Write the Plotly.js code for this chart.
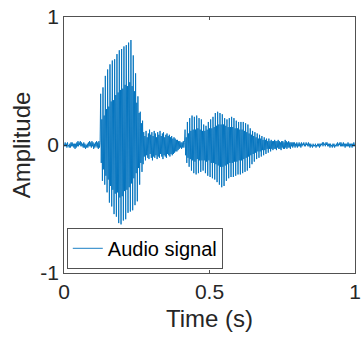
<!DOCTYPE html>
<html>
<head>
<meta charset="utf-8">
<script src="https://cdn.plot.ly/plotly-3.0.1.min.js"></script>
<style>html,body{margin:0;padding:0;background:#fff;}#chart{width:362px;height:337px;}</style>
</head>
<body>
<div id="chart"></div>
<script>
// Sample interval (s)
var sampleStep = 0.002;
// Leading background noise (0 - 0.124 s)
var leadNoise = [.01,-.01,.02,-.01,.01,-.02,.02,-.01,.00,-.02,
.01,-.02,.02,-.01,.02,-.01,.01,-.02,.01,-.03,
.01,-.02,.02,-.01,.03,-.01,.02,.00,.03,-.01,
.02,-.01,.01,-.02,.02,-.02,.01,-.03,.00,-.02,
.01,-.02,.02,-.01,.03,-.01,.02,-.02,.03,-.01,
.02,-.03,.01,-.02,.02,-.01,.03,-.02,.02,-.03,
.03,-.02,.02];
// First syllable (0.126 - 0.272 s)
var burstOne = [.40,-.14,.20,-.28,
.45,-.19,.23,-.31,
.54,-.24,.28,-.37,
.59,-.27,.30,-.45,
.63,-.32,.34,-.48,
.66,-.35,.35,-.54,
.67,-.38,.39,-.56,
.71,-.37,.41,-.61,
.74,-.41,.43,-.62,
.75,-.40,.44,-.59,
.77,-.36,.47,-.58,
.78,-.35,.46,-.53,
.80,-.33,.49,-.52,
.82,-.30,.46,-.51,
.70,-.26,.42,-.47,
.56,-.22,.33,-.44,
.38,-.18,.25,-.31,
.26,-.14,.17,-.21,
.19,-.15];
// Low-level segment (0.274 - 0.414 s)
var quietPart = [.10,-.09,.07,-.12,.11,-.08,.06,-.10,.09,-.11,
.12,-.07,.08,-.10,.10,-.12,.07,-.09,.11,-.10,
.09,-.08,.06,-.11,.10,-.09,.08,-.10,.11,-.07,
.07,-.09,.09,-.11,.10,-.08,.06,-.09,.08,-.10,
.09,-.07,.07,-.08,.08,-.09,.06,-.07,.07,-.08,
.05,-.07,.06,-.06,.05,-.05,.04,-.05,.04,-.04,
.03,-.03,.03,-.02,.02,-.03,.02,-.02,.03,-.02,
.02];
// Second syllable (0.416 - 0.72 s)
var burstTwo = [.12,-.08,.06,-.14,
.18,-.10,.09,-.17,
.21,-.11,.11,-.20,
.23,-.12,.12,-.22,
.22,-.13,.12,-.23,
.23,-.11,.13,-.22,
.21,-.12,.12,-.21,
.20,-.12,.11,-.20,
.16,-.12,.11,-.22,
.15,-.13,.12,-.24,
.18,-.12,.13,-.25,
.20,-.14,.13,-.26,
.22,-.14,.14,-.27,
.25,-.15,.15,-.29,
.26,-.16,.16,-.31,
.25,-.17,.16,-.33,
.24,-.17,.16,-.32,
.21,-.16,.15,-.28,
.20,-.15,.14,-.26,
.21,-.14,.14,-.25,
.22,-.14,.14,-.25,
.21,-.13,.13,-.24,
.19,-.13,.13,-.23,
.18,-.12,.12,-.23,
.18,-.12,.12,-.22,
.18,-.11,.11,-.21,
.17,-.10,.10,-.20,
.16,-.09,.09,-.18,
.13,-.08,.08,-.15,
.11,-.07,.07,-.13,
.10,-.06,.06,-.11,
.09,-.05,.05,-.10,
.08,-.05,.05,-.09,
.07,-.04,.04,-.08,
.06,-.04,.04,-.07,
.05,-.03,.03,-.06,
.05,-.03,.03,-.05,
.04,-.03,.03,-.04,
.03];
// Trailing background noise (0.722 - 1.0 s)
var tailNoise = [-.03,.04,-.03,.03,-.04,.03,-.02,.04,-.03,.03,
-.03,.02,-.04,.03,-.02,.03,-.03,.02,-.03,.04,
-.02,.03,-.03,.02,-.02,.03,-.02,.02,-.03,.02,
-.01,.02,-.02,.02,-.01,.02,-.02,.01,-.01,.02,
-.02,.01,-.01,.02,-.01,.01,-.02,.02,-.01,.01,
.00,.02,-.01,.01,-.01,.02,.00,.01,-.01,.02,
-.01,.01,-.02,.01,-.01,.00,-.02,.01,-.01,.00,
-.01,.01,-.02,.00,-.01,.01,-.01,.01,-.02,.01,
-.01,.01,.00,.02,-.01,.02,.00,.01,-.01,.02,
.00,.02,-.01,.01,-.01,.01,-.02,.01,-.01,.00,
-.02,.01,-.01,.01,-.02,.00,-.01,.01,-.01,.02,
-.01,.01,.00,.02,-.01,.02,-.01,.01,-.01,.02,
-.01,.01,-.02,.01,-.01,.01,-.01,.02,-.01,.01,
-.02,.01,-.01,.01,-.02,.01,-.01,.02,-.01,.01];
var xTickVals = [0, 0.5, 1];
var xTickText = ['0', '0.5', '1'];
var yTickVals = [-1, 0, 1];
var yTickText = ['-1', '0', '1'];

var amplitude = leadNoise.concat(burstOne, quietPart, burstTwo, tailNoise);
var time = amplitude.map(function (v, i) { return i * sampleStep; });

var axisColor = '#262626';
var fontFam = '"Liberation Sans", Arial, Helvetica, sans-serif';

var trace = {
  x: time, y: amplitude, type: 'scatter', mode: 'lines',
  name: 'Audio signal',
  line: {color: '#0072BD', width: 0.9},
  hoverinfo: 'skip'
};

var layout = {
  width: 362, height: 337,
  margin: {l: 64, r: 7, t: 17, b: 64},
  paper_bgcolor: '#fff', plot_bgcolor: '#fff',
  font: {family: fontFam, color: axisColor},
  showlegend: true,
  legend: {
    x: 0.0103, y: 0.0156, xanchor: 'left', yanchor: 'bottom',
    bgcolor: '#fff', bordercolor: axisColor, borderwidth: 0.8,
    font: {family: fontFam, size: 20, color: '#000'},
    itemwidth: 30
  },
  xaxis: {
    range: [0, 1], tickvals: xTickVals, ticktext: xTickText,
    ticks: 'inside', ticklen: 3, tickcolor: axisColor, tickwidth: 0.8,
    showline: true, linecolor: axisColor, linewidth: 0.8, mirror: 'ticks',
    showgrid: false, zeroline: false,
    tickfont: {family: fontFam, size: 21, color: axisColor},
    title: {text: 'Time (s)', font: {family: fontFam, size: 24, color: axisColor}, standoff: 8}
  },
  yaxis: {
    range: [-1, 1], tickvals: yTickVals, ticktext: yTickText,
    ticks: 'inside', ticklen: 3, tickcolor: axisColor, tickwidth: 0.8,
    showline: true, linecolor: axisColor, linewidth: 0.8, mirror: 'ticks',
    showgrid: false, zeroline: false,
    tickfont: {family: fontFam, size: 21, color: axisColor},
    title: {text: 'Amplitude', font: {family: fontFam, size: 24, color: axisColor}, standoff: 2}
  }
};

Plotly.newPlot('chart', [trace], layout, {staticPlot: true, displayModeBar: false});
</script>
</body>
</html>
